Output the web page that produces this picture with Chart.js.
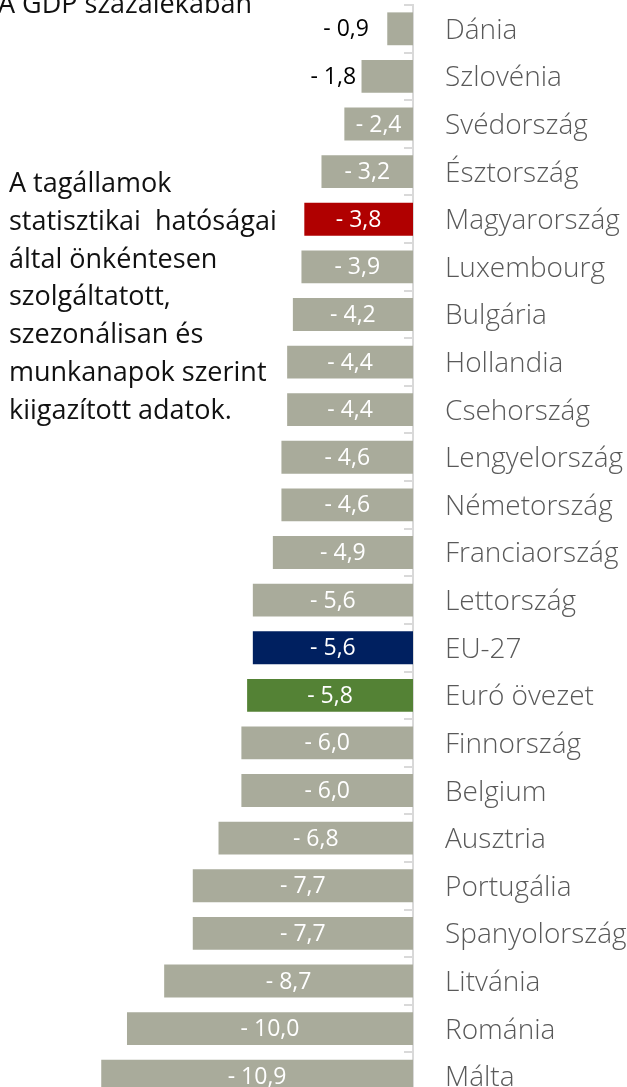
<!DOCTYPE html>
<html>
<head>
<meta charset="utf-8">
<script src="https://cdn.jsdelivr.net/npm/chart.js@4"></script>
<style>
  html, body { margin: 0; padding: 0; background: #fff; overflow: hidden; }
  #wrap { position: absolute; left: 0; top: 0; width: 627px; height: 1100px; }
  .note { position: absolute; font-family: "Open Sans", sans-serif; font-size: 27px; line-height: 37.8px; color: #111; white-space: nowrap; }
</style>
</head>
<body>
<div id="wrap"><canvas id="chart" width="627" height="1100"></canvas></div>
<div class="note" style="left:-2px; top:-16px;">A GDP százalékában</div>
<div class="note" style="left:9px; top:163px;">A tagállamok<br>statisztikai&nbsp; hatóságai<br>által önkéntesen<br>szolgáltatott,<br>szezonálisan és<br>munkanapok szerint<br>kiigazított adatok.</div>
<script>
// adatok
var countries = ["Dánia", "Szlovénia", "Svédország", "Észtország", "Magyarország", "Luxembourg",
  "Bulgária", "Hollandia", "Csehország", "Lengyelország", "Németország", "Franciaország",
  "Lettország", "EU-27", "Euró övezet", "Finnország", "Belgium", "Ausztria", "Portugália",
  "Spanyolország", "Litvánia", "Románia", "Málta"];
var deficit = [-0.9, -1.8, -2.4, -3.2, -3.8, -3.9, -4.2, -4.4, -4.4, -4.6, -4.6, -4.9,
  -5.6, -5.6, -5.8, -6.0, -6.0, -6.8, -7.7, -7.7, -8.7, -10.0, -10.9];
var specialColors = { "Magyarország": "#b00000", "EU-27": "#002060", "Euró övezet": "#548235" };
var baseColor = "#a9ab9b";

var barColors = countries.map(function (c) { return specialColors[c] || baseColor; });

function fmt(v) {
  return "- " + Math.abs(v).toFixed(1).replace(".", ",");
}

var valueLabels = {
  id: "valueLabels",
  afterDatasetsDraw: function (chart) {
    var ctx = chart.ctx;
    var meta = chart.getDatasetMeta(0);
    ctx.save();
    ctx.textAlign = "center";
    ctx.textBaseline = "middle";
    meta.data.forEach(function (bar, i) {
      var v = deficit[i];
      var mid = (bar.x + bar.base) / 2;
      if (Math.abs(v) < 2) {
        // kis oszlopoknál a felirat az oszlop mellé kerül
        ctx.font = "500 23px 'Open Sans'";
        ctx.fillStyle = "#000";
        ctx.fillText(fmt(v), mid - 54, bar.y + 1);
      } else {
        ctx.font = "23px 'Open Sans'";
        ctx.fillStyle = "#fff";
        ctx.fillText(fmt(v), mid, bar.y + 1);
      }
    });
    ctx.restore();
  }
};

var catTicks = {
  id: "catTicks",
  afterDraw: function (chart) {
    var y = chart.scales.y;
    var ctx = chart.ctx;
    var step = (y.bottom - y.top) / countries.length;
    ctx.save();
    ctx.strokeStyle = "#d9d9d9";
    ctx.lineWidth = 2;
    for (var i = 0; i <= countries.length; i++) {
      var py = Math.round(y.top + i * step);
      ctx.beginPath();
      ctx.moveTo(y.left - 9, py);
      ctx.lineTo(y.left, py);
      ctx.stroke();
    }
    ctx.restore();
  }
};

new Chart(document.getElementById("chart"), {
  type: "bar",
  data: {
    labels: countries,
    datasets: [{
      data: deficit,
      backgroundColor: barColors,
      borderWidth: 0,
      categoryPercentage: 1,
      barPercentage: 0.69
    }]
  },
  plugins: [valueLabels, catTicks],
  options: {
    indexAxis: "y",
    responsive: false,
    devicePixelRatio: 1,
    animation: false,
    layout: { padding: { top: 5, bottom: 0, left: 0, right: 0 } },
    plugins: {
      legend: { display: false },
      tooltip: { enabled: false },
      title: { display: false }
    },
    scales: {
      x: {
        display: false,
        min: -14.44,
        max: 0
      },
      y: {
        position: "right",
        grid: { display: false, drawTicks: false },
        border: { display: true, color: "#d9d9d9", width: 2 },
        afterFit: function (scale) {
          scale.width = 214;
          scale.paddingTop = 0;
          scale.paddingBottom = 0;
        },
        ticks: {
          padding: 32,
          labelOffset: 2,
          color: "#595959",
          font: { family: "Open Sans", size: 28, weight: "300" }
        }
      }
    }
  }
});
</script>
</body>
</html>
